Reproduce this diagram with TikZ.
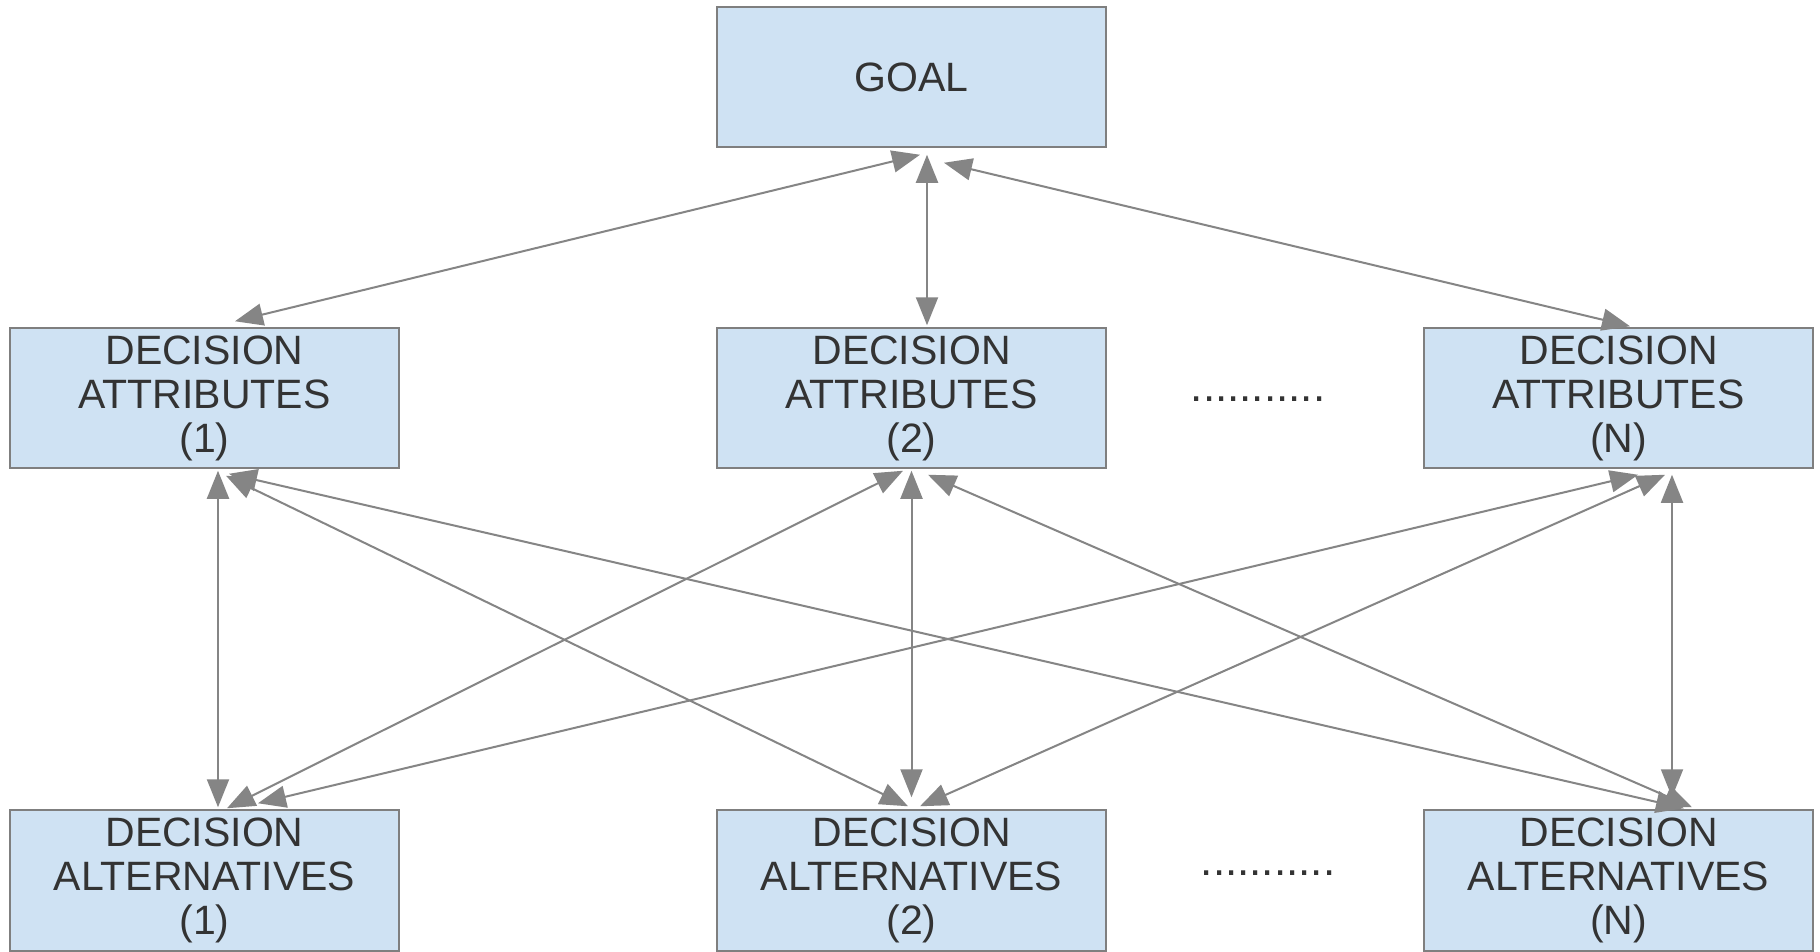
\documentclass[tikz,border=0pt]{standalone}
\usepackage{fontspec}
\setmainfont{Liberation Sans}
\usetikzlibrary{arrows.meta}
\definecolor{boxfill}{HTML}{CFE2F3}
\definecolor{boxline}{HTML}{7F7F7F}
\definecolor{arrowc}{HTML}{858585}
\definecolor{txt}{HTML}{333333}
\tikzset{
  box/.style={draw=boxline, line width=1.5pt, fill=boxfill, minimum width=389pt,
    minimum height=140pt, inner sep=0pt, text width=385pt, align=center,
    text=txt, font=\fontsize{41}{44}\selectfont},
  link/.style={draw=arrowc, line width=2pt,
    {Triangle[length=28pt,width=22pt]}-{Triangle[length=28pt,width=22pt]}},
  dotsty/.style={inner sep=0pt, text=txt, font=\fontsize{44}{44}\selectfont}
}
\begin{document}
\begin{tikzpicture}[x=1pt,y=-1pt]
\useasboundingbox[fill=white] (0,0) rectangle (1820,951);

\node[box] (goal) at (911.5,77) {GOAL};
\node[box] (a1) at (204.5,398) {DECISION\\ATTRIBUTES\\(1)};
\node[box] (a2) at (911.5,398) {DECISION\\ATTRIBUTES\\(2)};
\node[box] (aN) at (1618.5,398) {DECISION\\ATTRIBUTES\\(N)};
\node[box, minimum height=141pt] (l1) at (204.5,880.5) {DECISION\\ALTERNATIVES\\(1)};
\node[box, minimum height=141pt] (l2) at (911.5,880.5) {DECISION\\ALTERNATIVES\\(2)};
\node[box, minimum height=141pt] (lN) at (1618.5,880.5) {DECISION\\ALTERNATIVES\\(N)};

\node[dotsty] (dA) at (1258,399) {...........};
\node[dotsty] (dL) at (1268,873) {...........};

% goal to attributes
\draw[link] ([shift={(8.5,7)}]goal.south) -- ([shift={(30.5,-6)}]a1.north);
\draw[link] ([shift={(15.5,7)}]goal.south) -- ([shift={(15.5,-2)}]a2.north);
\draw[link] ([shift={(32.5,15)}]goal.south) -- ([shift={(11.5,-1)}]aN.north);

% attributes to alternatives
\draw[link] ([shift={(13.5,2)}]a1.south) -- ([shift={(13.5,-2)}]l1.north);
\draw[link] ([shift={(21.5,7)}]a1.south) -- ([shift={(-3.5,-3)}]l2.north);
\draw[link] ([shift={(24.5,5)}]a1.south) -- ([shift={(65.5,-1)}]lN.north);

\draw[link] ([shift={(-8.5,2)}]a2.south) -- ([shift={(22.5,-1)}]l1.north);
\draw[link] ([shift={(0,2)}]a2.south) -- ([shift={(0,-12)}]l2.north);
\draw[link] ([shift={(16.5,6)}]a2.south) -- ([shift={(73.5,-2)}]lN.north);

\draw[link] ([shift={(19.5,6)}]aN.south) -- ([shift={(53.5,-6)}]l1.north);
\draw[link] ([shift={(46.5,6)}]aN.south) -- ([shift={(8.5,-3)}]l2.north);
\draw[link] ([shift={(53.5,6)}]aN.south) -- ([shift={(53.5,-12)}]lN.north);
\end{tikzpicture}
\end{document}
